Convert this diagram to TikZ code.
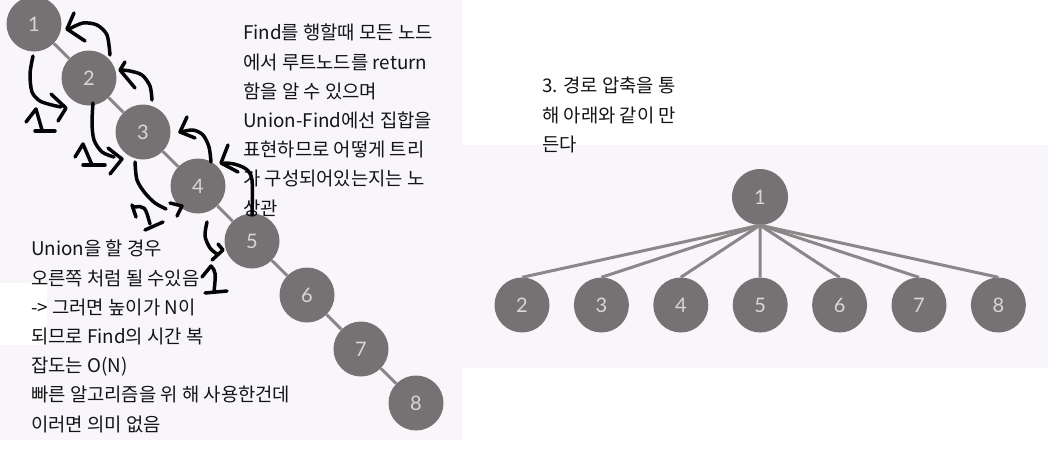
\documentclass[tikz,border=0pt]{standalone}
\usepackage{fontspec}
\usetikzlibrary{positioning}
\newfontfamily\krfont{Noto Sans CJK KR}
\newfontfamily\numfont{Lato}
\definecolor{cPaper}{HTML}{F8F6FA}
\definecolor{cNode}{HTML}{767273}
\definecolor{cDigit}{HTML}{D8D6D6}
\definecolor{cLink}{HTML}{8B8788}
\definecolor{cInk}{HTML}{050505}
\definecolor{cMemo}{HTML}{141414}
\tikzset{
  setnode/.style={circle, fill=cNode, draw=none, minimum size=55pt, inner sep=0pt,
    text=cDigit, font=\numfont\fontsize{20}{20}\selectfont},
  rootnode/.style={setnode, minimum size=56pt},
  treelink/.style={draw=cLink, line width=3pt},
  penstroke/.style={draw=cInk, line width=3.5pt, line cap=round, line join=round},
  memo/.style={align=left, anchor=north west, inner sep=0pt, text=cMemo,
    font=\krfont\fontsize{18.8}{29.2}\selectfont},
}

\begin{document}
\begin{tikzpicture}[x=1pt, y=-1pt, node distance=24pt]
  \useasboundingbox (0,0) rectangle (1048,451);

  % ----------------------------------------------------------------
  % Backgrounds (screenshot panels)
  % ----------------------------------------------------------------
  \fill[cPaper] (0,0) rectangle (462,440);
  \fill[white] (0,283) rectangle (47,345);
  \fill[cPaper] (462,145) rectangle (1048,368);

  % ----------------------------------------------------------------
  % Left: degenerate tree (a chain)
  % ----------------------------------------------------------------
  \node[setnode] (k1) at (34,24)  {1};
  \node[setnode] (k2) at (89,78)  {2};
  \node[setnode] (k3) at (143,132) {3};
  \node[setnode] (k4) at (198,186) {4};
  \node[setnode] (k5) at (252,241) {5};
  \node[setnode] (k6) at (307,295) {6};
  \node[setnode] (k7) at (361,349) {7};
  \node[setnode] (k8) at (416,403) {8};

  \draw[treelink] (k1) -- (k2);
  \draw[treelink] (k2) -- (k3);
  \draw[treelink] (k3) -- (k4);
  \draw[treelink] (k4) -- (k5);
  \draw[treelink] (k5) -- (k6);
  \draw[treelink] (k6) -- (k7);
  \draw[treelink] (k7) -- (k8);

  % ----------------------------------------------------------------
  % Right: tree after path compression
  % ----------------------------------------------------------------
  \node[rootnode] (r1) at (760,197) {1};
  \node[setnode] (f2) at (522,305) {2};
  \node[setnode, right=of f2] (f3) {3};
  \node[setnode, right=of f3] (f4) {4};
  \node[setnode, right=of f4] (f5) {5};
  \node[setnode, right=of f5] (f6) {6};
  \node[setnode, right=of f6] (f7) {7};
  \node[setnode, right=of f7] (f8) {8};

  \draw[treelink] (r1.south) -- (f2.north);
  \draw[treelink] (r1.south) -- (f3.north);
  \draw[treelink] (r1.south) -- (f4.north);
  \draw[treelink] (r1.south) -- (f5.north);
  \draw[treelink] (r1.south) -- (f6.north);
  \draw[treelink] (r1.south) -- (f7.north);
  \draw[treelink] (r1.south) -- (f8.north);

  % ----------------------------------------------------------------
  % Notes
  % ----------------------------------------------------------------
  \node[memo] (findnote) at (243,24)
    {Find를 행할때 모든 노드\\ 에서 루트노드를 return\\ 함을 알 수 있으며\\
     Union-Find에선 집합을\\ 표현하므로 어떻게 트리\\ 가 구성되어있는지는 노\\ 상관};
  \node[memo] (unionnote) at (31,240)
    {Union을 할 경우\\ 오른쪽 처럼 될 수있음\\ -> 그러면 높이가 N이\\
     되므로 Find의 시간 복\\ 잡도는 O(N)\\ 빠른 알고리즘을 위 해 사용한건데\\ 이러면 의미 없음};
  \node[memo] (stepnote) at (542,77)
    {3. 경로 압축을 통\\ 해 아래와 같이 만\\ 든다};

  % ----------------------------------------------------------------
  % Hand-drawn strokes
  % ----------------------------------------------------------------
  % up: 2 -> 1
  \draw[penstroke] plot[smooth] coordinates {(110,55) (107,35) (97,25) (83,23) (69,29)};
  \draw[penstroke] (74,13) -- (67,29) -- (85,41);
  % down: 1 -> 2
  \draw[penstroke] plot[smooth] coordinates {(33,56) (30,74) (32,92) (40,101) (52,105) (61,107)};
  \draw[penstroke] (51,94) -- (66,108) -- (58,121);
  \draw[penstroke] (26,122) -- (36,109) -- (42,130);
  \draw[penstroke] (35,131) -- (55,131);

  % up: 3 -> 2
  \draw[penstroke] plot[smooth] coordinates {(152,100) (150,86) (142,75) (130,71) (121,70)};
  \draw[penstroke] (125,62) -- (120,70) -- (135,88);
  % down: 2 -> 3
  \draw[penstroke] plot[smooth] coordinates {(93,103) (92,123) (94,140) (102,152) (114,157)};
  \draw[penstroke] (108,148) -- (122,159) -- (110,174);
  \draw[penstroke] (75,157) -- (83,144) -- (92,165);
  \draw[penstroke] (83,165) -- (105,165);

  % up: 4 -> 3
  \draw[penstroke] plot[smooth] coordinates {(211,162) (209,147) (203,135) (193,130) (181,132)};
  \draw[penstroke] (187,117) -- (180,132) -- (195,138);
  % down: 3 -> 4
  \draw[penstroke] plot[smooth] coordinates {(135,162) (137,180) (145,193) (155,203) (166,209)};
  \draw[penstroke] (170,203) -- (182,206) -- (177,216);
  \draw[penstroke] (132,205) -- (136,217);
  \draw[penstroke] (134,207) .. controls (145,206) .. (150,224);
  \draw[penstroke] (145,230) -- (163,222);

  % up: 5 -> 4
  \draw[penstroke] plot[smooth] coordinates {(252,215) (252,180) (246,169) (234,164) (224,163)};
  \draw[penstroke] (228,145) -- (221,163) -- (238,172);
  % down: 4 -> 5
  \draw[penstroke] plot[smooth] coordinates {(207,222) (205,236) (210,248) (217,254)};
  \draw[penstroke] (218,244) -- (223,250) -- (212,260);
  \draw[penstroke] (202,277) -- (211,266) .. controls (216,272) .. (214,292);
  \draw[penstroke] (205,293) -- (227,291);

\end{tikzpicture}
\end{document}
